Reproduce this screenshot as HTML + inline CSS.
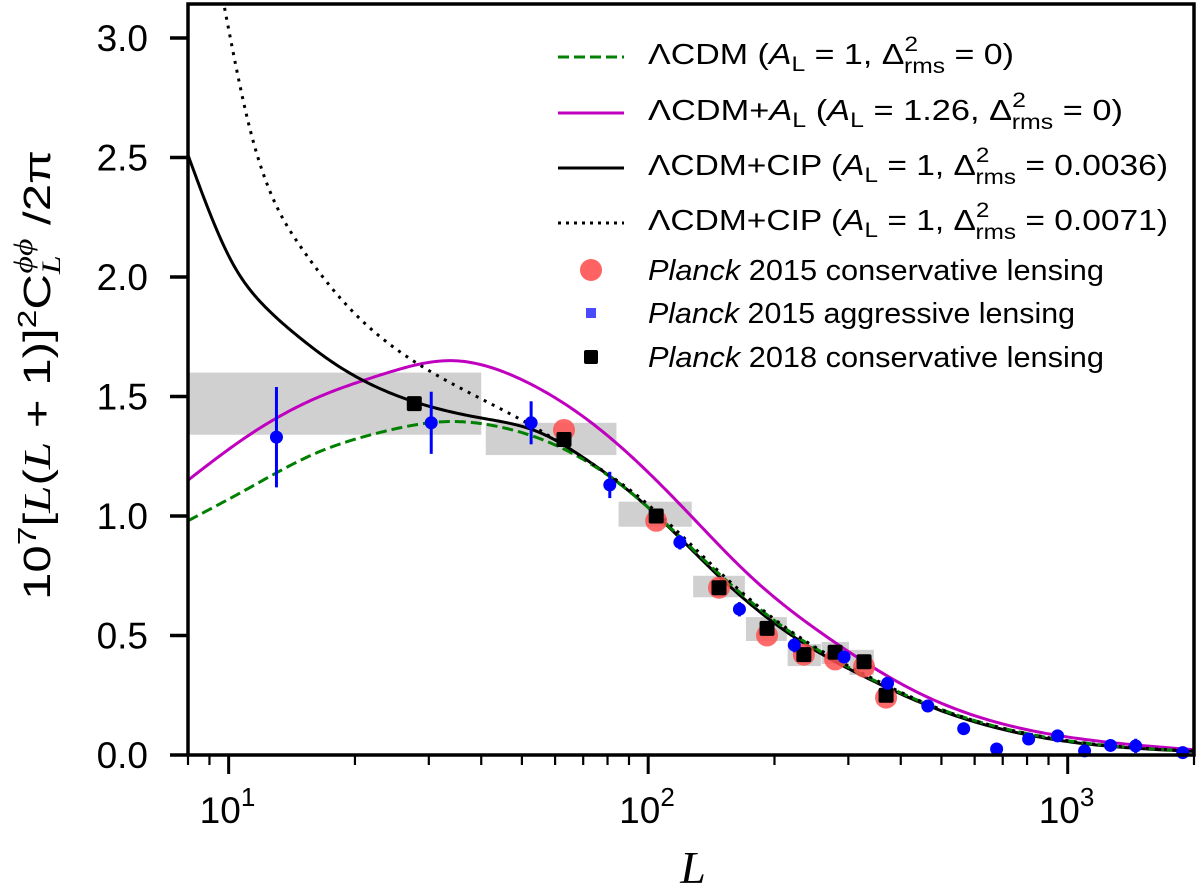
<!DOCTYPE html>
<html><head><meta charset="utf-8"><style>
html,body{margin:0;padding:0;background:#fff;}
svg{display:block;font-family:"Liberation Sans","DejaVu Sans",sans-serif;}
</style></head><body>
<svg id="chart" width="1200" height="887" viewBox="0 0 1200 887" xmlns="http://www.w3.org/2000/svg">
<defs><clipPath id="plotclip"><rect x="188" y="4" width="1006" height="751"/></clipPath></defs>
<g id="boxes" clip-path="url(#plotclip)"></g>
<g id="curves" clip-path="url(#plotclip)"></g>
<g id="points"></g>
<rect x="188" y="4" width="1006" height="751" fill="none" stroke="#000" stroke-width="3.5"/>
<g id="ticks"></g>
<text x="0" y="0" transform="translate(50,375) rotate(-90)" text-anchor="middle" font-size="38" textLength="450" lengthAdjust="spacingAndGlyphs">10<tspan font-size="26" dy="-14">7</tspan><tspan dy="14">[</tspan><tspan font-family="Liberation Serif" font-style="italic">L</tspan>(<tspan font-family="Liberation Serif" font-style="italic">L</tspan> + 1)]<tspan font-size="26" dy="-14">2</tspan><tspan dy="14">C</tspan><tspan font-size="26" dy="10" font-family="Liberation Serif" font-style="italic">L</tspan><tspan font-size="26" dx="-14" dy="-28" font-family="Liberation Serif" font-style="italic">ϕϕ</tspan><tspan dy="18"> /2π</tspan></text>
<text x="693" y="883" text-anchor="middle" font-size="46" font-family="Liberation Serif" font-style="italic">L</text>
<g id="legend">
  <line x1="558" y1="57" x2="624" y2="57" stroke="#008000" stroke-width="3" stroke-dasharray="11,5"/>
  <text x="648" y="64" font-size="29" textLength="366" lengthAdjust="spacingAndGlyphs">ΛCDM (<tspan font-style="italic">A</tspan><tspan font-size="21" dy="7">L</tspan><tspan dy="-7"> = 1, Δ</tspan><tspan font-size="21" dy="-13">2</tspan><tspan font-size="21" dx="-12" dy="22">rms</tspan><tspan dy="-9"> = 0)</tspan></text>
  <line x1="558" y1="113" x2="624" y2="113" stroke="#bf00bf" stroke-width="3"/>
  <text x="648" y="120" font-size="29" textLength="475" lengthAdjust="spacingAndGlyphs">ΛCDM+<tspan font-style="italic">A</tspan><tspan font-size="21" dy="7">L</tspan><tspan dy="-7"> (</tspan><tspan font-style="italic">A</tspan><tspan font-size="21" dy="7">L</tspan><tspan dy="-7"> = 1.26, Δ</tspan><tspan font-size="21" dy="-13">2</tspan><tspan font-size="21" dx="-12" dy="22">rms</tspan><tspan dy="-9"> = 0)</tspan></text>
  <line x1="558" y1="168" x2="624" y2="168" stroke="#000" stroke-width="3"/>
  <text x="648" y="175" font-size="29" textLength="520" lengthAdjust="spacingAndGlyphs">ΛCDM+CIP (<tspan font-style="italic">A</tspan><tspan font-size="21" dy="7">L</tspan><tspan dy="-7"> = 1, Δ</tspan><tspan font-size="21" dy="-13">2</tspan><tspan font-size="21" dx="-12" dy="22">rms</tspan><tspan dy="-9"> = 0.0036)</tspan></text>
  <line x1="558" y1="223" x2="624" y2="223" stroke="#000" stroke-width="3" stroke-dasharray="3,5"/>
  <text x="648" y="230" font-size="29" textLength="520" lengthAdjust="spacingAndGlyphs">ΛCDM+CIP (<tspan font-style="italic">A</tspan><tspan font-size="21" dy="7">L</tspan><tspan dy="-7"> = 1, Δ</tspan><tspan font-size="21" dy="-13">2</tspan><tspan font-size="21" dx="-12" dy="22">rms</tspan><tspan dy="-9"> = 0.0071)</tspan></text>
  <circle cx="591" cy="270" r="11" fill="#ff6262"/>
  <text x="648" y="280" font-size="29" textLength="456" lengthAdjust="spacingAndGlyphs"><tspan font-style="italic">Planck</tspan> 2015 conservative lensing</text>
  <rect x="586" y="308" width="10" height="10" fill="#4a4aff"/>
  <text x="648" y="323" font-size="29" textLength="427" lengthAdjust="spacingAndGlyphs"><tspan font-style="italic">Planck</tspan> 2015 aggressive lensing</text>
  <rect x="584" y="350" width="14" height="14" rx="2" fill="#000"/>
  <text x="648" y="367" font-size="29" textLength="456" lengthAdjust="spacingAndGlyphs"><tspan font-style="italic">Planck</tspan> 2018 conservative lensing</text>
</g>
</svg>
<script>
// ---- data ----
const yTicks = [0.0, 0.5, 1.0, 1.5, 2.0, 2.5, 3.0];
const yTickLabels = ["0.0","0.5","1.0","1.5","2.0","2.5","3.0"];
const xMajor = [10, 100, 1000];
const xMajorExp = ["1","2","3"];

const lcdmL = [8, 11, 16, 23, 33, 45, 63, 95, 145, 220, 330, 500, 750, 1100, 2000];
const lcdmV = [0.98, 1.11, 1.26, 1.35, 1.395, 1.37, 1.28, 1.07, 0.77, 0.51, 0.33, 0.19, 0.10, 0.05, 0.016];
const alL = [8, 11, 16, 23, 34, 50, 72, 95, 125, 176, 274, 441, 700, 1100, 2000];
const alV = [1.15, 1.33, 1.49, 1.59, 1.65, 1.57, 1.40, 1.22, 1.01, 0.745, 0.48, 0.26, 0.13, 0.065, 0.022];
const cipL = [8, 10.2, 12.3, 14.8, 17.8, 25.5, 40, 55, 72, 95, 145, 220, 330, 500, 750, 1100, 2000];
const cipV = [2.51, 2.06, 1.87, 1.745, 1.64, 1.50, 1.41, 1.35, 1.23, 1.07, 0.76, 0.50, 0.325, 0.185, 0.095, 0.047, 0.015];
const cip2L = [9.6, 11.2, 14.8, 19.4, 27.5, 40, 55, 72, 95, 145, 220, 330, 500, 750, 1100, 2000];
const cip2V = [3.20, 2.63, 2.13, 1.87, 1.65, 1.49, 1.36, 1.23, 1.08, 0.78, 0.515, 0.335, 0.19, 0.10, 0.05, 0.017];

const boxLlo = [8, 41, 85, 128, 171, 215, 259, 302];
const boxLhi = [40, 84, 127, 170, 214, 258, 301, 345];
const boxVlo = [1.34, 1.255, 0.955, 0.66, 0.477, 0.372, 0.381, 0.335];
const boxVhi = [1.60, 1.39, 1.06, 0.75, 0.577, 0.464, 0.473, 0.44];

const cons15L = [63, 104.5, 147.5, 192, 235, 279, 327, 369];
const cons15V = [1.36, 0.98, 0.70, 0.50, 0.42, 0.40, 0.37, 0.24];
const cons18L = [27.7, 63, 104.5, 147.5, 192, 235, 279, 327, 369];
const cons18V = [1.47, 1.32, 1.00, 0.70, 0.53, 0.42, 0.43, 0.39, 0.25];
const aggL = [13, 30.4, 52.6, 81, 119, 165, 223, 293, 372, 464, 565, 677, 807, 946, 1097, 1265, 1452, 1880];
const aggV = [1.33, 1.39, 1.39, 1.13, 0.89, 0.61, 0.46, 0.41, 0.30, 0.205, 0.11, 0.025, 0.067, 0.08, 0.017, 0.04, 0.038, 0.01];
const aggErr = [0.21, 0.13, 0.09, 0.055, 0.03, 0.03, 0.03, 0.025, 0.025, 0.02, 0.015, 0.015, 0.015, 0.015, 0.02, 0.025, 0.03, 0.02];

// ---- axes ----
const X0 = 188, X1 = 1194, Y0 = 755, Y1 = 4;
const LMIN = 8, LMAX = 2000, VMIN = 0, VMAX = 3.1423;
function xs(L){ return X0 + (Math.log10(L) - Math.log10(LMIN)) / (Math.log10(LMAX) - Math.log10(LMIN)) * (X1 - X0); }
function ys(v){ return Y0 - (v - VMIN) / (VMAX - VMIN) * (Y0 - Y1); }
const NS = "http://www.w3.org/2000/svg";
function mk(tag, attrs, parent){ const e = document.createElementNS(NS, tag); for (const k in attrs) e.setAttribute(k, attrs[k]); parent.appendChild(e); return e; }

const ticks = document.getElementById('ticks');
yTicks.forEach((v, i) => {
  const t = mk('line', {x1: 170, x2: 188, y1: ys(v), y2: ys(v), stroke: '#000', 'stroke-width': 3.5}, ticks);
  
  
  const lb = mk('text', {x: 148, y: ys(v) + 13, 'text-anchor': 'end', 'font-size': 37}, ticks);
  lb.textContent = yTickLabels[i];
  
  
});
xMajor.forEach((L, i) => {
  const t = mk('line', {x1: xs(L), x2: xs(L), y1: 755, y2: 774, stroke: '#000', 'stroke-width': 3}, ticks);
  
  
  const lb = mk('text', {x: xs(L) - 29, y: 823, 'font-size': 37}, ticks);
  lb.innerHTML = '10<tspan font-size="26" dy="-17">' + xMajorExp[i] + '</tspan>';
  
  
});
[8, 9, 20,30,40,50,60,70,80,90,200,300,400,500,600,700,800,900,2000].forEach(L => {
  if (L > LMAX) return;
  const t = mk('line', {x1: xs(L), x2: xs(L), y1: 755, y2: 765, stroke: '#000', 'stroke-width': 2.2}, ticks);
  
  
});

// ---- boxes ----
const boxes = document.getElementById('boxes');
boxLlo.forEach((lo, i) => {
  const r = mk('rect', {x: xs(lo), y: ys(boxVhi[i]), width: xs(boxLhi[i]) - xs(lo), height: ys(boxVlo[i]) - ys(boxVhi[i]), fill: '#d0d0d0'}, boxes);
  
  
});

// ---- curves: natural cubic spline in log L ----
function pathFrom(Ls, Vs){
  const x = Ls.map(L => Math.log10(L)), y = Vs.slice(), n = x.length;
  const h = [], a = new Array(n).fill(0), b = new Array(n).fill(0), c = new Array(n).fill(0), r = new Array(n).fill(0);
  for (let i = 0; i < n-1; i++) h.push(x[i+1]-x[i]);
  b[0] = 1; b[n-1] = 1;
  for (let i = 1; i < n-1; i++){
    a[i] = h[i-1]; b[i] = 2*(h[i-1]+h[i]); c[i] = h[i];
    r[i] = 6*((y[i+1]-y[i])/h[i] - (y[i]-y[i-1])/h[i-1]);
  }
  for (let i = 1; i < n; i++){ const w = a[i]/b[i-1]; b[i] -= w*c[i-1]; r[i] -= w*r[i-1]; }
  const M = new Array(n); M[n-1] = r[n-1]/b[n-1];
  for (let i = n-2; i >= 0; i--) M[i] = (r[i] - c[i]*M[i+1]) / b[i];
  let s = '';
  for (let i = 0; i < n-1; i++){
    for (let k = 0; k <= 24; k++){
      if (i > 0 && k === 0) continue;
      const t = k/24, xx = x[i] + t*h[i], A = (x[i+1]-xx)/h[i], B = (xx-x[i])/h[i];
      const v = A*y[i] + B*y[i+1] + ((A*A*A - A)*M[i] + (B*B*B - B)*M[i+1]) * h[i]*h[i]/6;
      s += (s ? ' L' : 'M') + xs(Math.pow(10, xx)).toFixed(2) + ',' + ys(v).toFixed(2);
    }
  }
  return s;
}
const curves = document.getElementById('curves');
const cAl = mk('path', {d: pathFrom(alL, alV), fill: 'none', stroke: '#bf00bf', 'stroke-width': 3}, curves);


const cCip = mk('path', {d: pathFrom(cipL, cipV), fill: 'none', stroke: '#000', 'stroke-width': 3}, curves);


const cL = mk('path', {d: pathFrom(lcdmL, lcdmV), fill: 'none', stroke: '#008000', 'stroke-width': 3, 'stroke-dasharray': '11,5'}, curves);


const cCip2 = mk('path', {d: pathFrom(cip2L, cip2V), fill: 'none', stroke: '#000', 'stroke-width': 3, 'stroke-dasharray': '3,6'}, curves);



// ---- points ----
const pts = document.getElementById('points');
cons15L.forEach((L, i) => {
  const c = mk('circle', {cx: xs(L), cy: ys(cons15V[i]), r: 11, fill: '#ff5050', 'fill-opacity': 0.85}, pts);
  
  
});
cons18L.forEach((L, i) => {
  const s = mk('rect', {x: xs(L) - 7.5, y: ys(cons18V[i]) - 7.5, width: 15, height: 15, rx: 2, fill: '#000'}, pts);
  
  
});
aggL.forEach((L, i) => {
  const e = mk('line', {x1: xs(L), x2: xs(L), y1: ys(aggV[i] - aggErr[i]), y2: ys(aggV[i] + aggErr[i]), stroke: '#0000ff', 'stroke-width': 3}, pts);
  
  
  const c = mk('circle', {cx: xs(L), cy: ys(aggV[i]), r: 6.5, fill: '#0000ff'}, pts);
  
  
});
</script>
</body></html>
